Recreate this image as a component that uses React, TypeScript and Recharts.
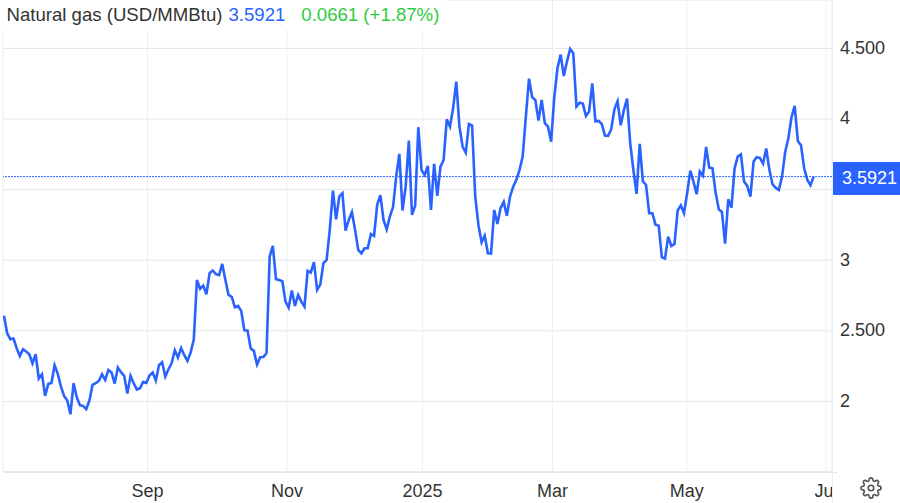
import React from "react";
import { LineChart, Line, XAxis, YAxis, CartesianGrid, ReferenceLine } from "recharts";

const FONT = '"Liberation Sans", Arial, sans-serif';

const prices: number[] = [
  2.606, 2.483, 2.44, 2.445, 2.377, 2.322, 2.369, 2.353, 2.334, 2.27,
  2.334, 2.162, 2.192, 2.039, 2.124, 2.131, 2.256, 2.195, 2.105, 2.039,
  2.006, 1.909, 2.129, 2.03, 1.973, 1.968, 1.945, 2.006, 2.117, 2.129,
  2.145, 2.192, 2.152, 2.223, 2.204, 2.126, 2.24, 2.207, 2.181, 2.055,
  2.181, 2.129, 2.084, 2.093, 2.138, 2.131, 2.183, 2.204, 2.148, 2.256,
  2.277, 2.176, 2.228, 2.27, 2.362, 2.31, 2.377, 2.327, 2.287, 2.346,
  2.436, 2.86, 2.797, 2.82, 2.759, 2.908, 2.927, 2.901, 2.894, 2.974,
  2.86, 2.754, 2.74, 2.667, 2.676, 2.641, 2.504, 2.502, 2.374, 2.358,
  2.261, 2.313, 2.315, 2.341, 3.026, 3.101, 2.865, 2.86, 2.851, 2.707,
  2.664, 2.785, 2.676, 2.754, 2.707, 2.672, 2.924, 2.912, 2.986, 2.79,
  2.827, 2.979, 3.002,
  3.215, 3.493, 3.29, 3.451, 3.474, 3.21, 3.285, 3.34, 3.215, 3.073,
  3.049, 3.085, 3.085, 3.186, 3.172, 3.392, 3.46, 3.285, 3.219, 3.309,
  3.375, 3.592, 3.753, 3.352, 3.521, 3.847, 3.321, 3.385, 3.942, 3.64,
  3.604, 3.668, 3.356, 3.682, 3.455, 3.663, 3.71, 3.998, 3.946,
  4.076, 4.265, 3.946, 3.805, 3.762, 3.965, 3.954, 3.451, 3.25, 3.127,
  3.174, 3.049, 3.047, 3.356, 3.257, 3.368, 3.413, 3.314, 3.451, 3.521,
  3.569, 3.64, 3.734, 4.017, 4.286, 4.154, 4.135, 3.989, 4.135, 3.97,
  3.946, 3.84, 4.159, 4.36, 4.456, 4.305, 4.407, 4.496, 4.466, 4.088,
  4.116, 4.109, 4.022, 4.053, 4.253, 3.984, 3.987, 3.965, 3.883, 3.881,
  3.928, 4.069, 4.126, 3.956, 4.064, 4.145, 3.828, 3.64, 3.47, 3.824,
  3.559, 3.533, 3.333, 3.333, 3.252, 3.245, 3.021, 3.012, 3.167, 3.101,
  3.115, 3.352, 3.389, 3.333, 3.474, 3.635, 3.557, 3.467, 3.628, 3.599,
  3.802, 3.656, 3.651, 3.479, 3.361, 3.342, 3.118, 3.432, 3.373, 3.651,
  3.734, 3.75, 3.557, 3.526, 3.451, 3.699, 3.729, 3.725, 3.684, 3.791,
  3.64, 3.538, 3.512, 3.498, 3.592, 3.767, 3.864, 4.013, 4.093, 3.845,
  3.814, 3.651, 3.569, 3.531, 3.5921,
];

const monthLabels = ["Sep", "Nov", "2025", "Mar", "May", "Jul"];
const monthSessions = [45.4, 89.5, 132.3, 173.4, 215.9, 259.9];
const priceTicks = [2, 2.5, 3, 3.5, 4, 4.5];
const priceTickLabels = ["2", "2.500", "3", "3.500", "4", "4.500"];
const lastPrice = 3.5921;
const titleText = "Natural gas (USD/MMBtu)";
const lastPriceText = "3.5921";
const changeText = "0.0661 (+1.87%)";

const chartData = prices.map((price, session) => ({ session, price }));

const BLUE = "#2962ff";
const TEXT = "#333333";

const GEAR =
  "M19.4 15a1.65 1.65 0 0 0 .33 1.82l.06.06a2 2 0 0 1 0 2.83 2 2 0 0 1-2.83 0l-.06-.06a1.65 1.65 0 0 0-1.82-.33 1.65 1.65 0 0 0-1 1.51V21a2 2 0 0 1-2 2 2 2 0 0 1-2-2v-.09A1.65 1.65 0 0 0 9 19.4a1.65 1.65 0 0 0-1.82.33l-.06.06a2 2 0 0 1-2.83 0 2 2 0 0 1 0-2.83l.06-.06a1.65 1.65 0 0 0 .33-1.82 1.65 1.65 0 0 0-1.51-1H3a2 2 0 0 1-2-2 2 2 0 0 1 2-2h.09A1.65 1.65 0 0 0 4.6 9a1.65 1.65 0 0 0-.33-1.82l-.06-.06a2 2 0 0 1 0-2.83 2 2 0 0 1 2.83 0l.06.06a1.65 1.65 0 0 0 1.82.33H9a1.65 1.65 0 0 0 1-1.51V3a2 2 0 0 1 2-2 2 2 0 0 1 2 2v.09a1.65 1.65 0 0 0 1 1.51 1.65 1.65 0 0 0 1.82-.33l.06-.06a2 2 0 0 1 2.83 0 2 2 0 0 1 0 2.83l-.06.06a1.65 1.65 0 0 0-.33 1.82V9a1.65 1.65 0 0 0 1.51 1H21a2 2 0 0 1 2 2 2 2 0 0 1-2 2h-.09a1.65 1.65 0 0 0-1.51 1z";

export default function App() {
  return (
    <div style={{ position: "absolute", left: 0, top: 0, width: 900, height: 503, background: "#fff", overflow: "hidden", fontFamily: FONT }}>
      <LineChart
        width={900}
        height={503}
        data={chartData}
        margin={{ top: 0, right: 0, bottom: 0, left: 3 }}
      >
        <CartesianGrid vertical={false} stroke="#e6e6e6" strokeWidth={1} />
        <CartesianGrid horizontal={false} stroke="#e9eff5" strokeWidth={1} />
        <XAxis
          dataKey="session"
          type="number"
          domain={[-0.32, 261.8]}
          ticks={monthSessions}
          interval={0}
          tickFormatter={(v: number) => monthLabels[monthSessions.indexOf(v)]}
          tick={{ fill: TEXT, fontSize: 18, fontFamily: FONT }}
          tickLine={false}
          axisLine={{ stroke: "#e0e0e0" }}
          tickMargin={6}
          height={31}
        />
        <YAxis
          orientation="right"
          type="number"
          domain={[1.5, 4.843]}
          ticks={priceTicks}
          interval={0}
          tickFormatter={(v: number) => priceTickLabels[priceTicks.indexOf(v)]}
          tick={{ fill: TEXT, fontSize: 18, fontFamily: FONT, dy: -1 }}
          tickLine={false}
          axisLine={false}
          tickMargin={2}
          width={68}
        />
        <ReferenceLine
          y={lastPrice}
          stroke={BLUE}
          strokeDasharray="2 1"
          strokeWidth={1}
        />
        <Line
          type="linear"
          dataKey="price"
          stroke={BLUE}
          strokeWidth={2.6}
          dot={false}
          activeDot={false}
          isAnimationActive={false}
        />
      </LineChart>

      <div style={{ position: "absolute", left: 0, top: 0, width: 446, height: 30, background: "#fff", whiteSpace: "nowrap", fontSize: 18.6, lineHeight: "30px", paddingLeft: 6.5, boxSizing: "border-box" }}>
        <span style={{ color: TEXT }}>{titleText}</span>
        <span style={{ color: BLUE, marginLeft: 6 }}>{lastPriceText}</span>
        <span style={{ color: "#2ecc40", marginLeft: 16 }}>{changeText}</span>
      </div>

      <div style={{ position: "absolute", left: 832, top: 162, width: 68, height: 33, background: BLUE, color: "#fff", fontSize: 18, lineHeight: "33px", paddingLeft: 10, boxSizing: "border-box" }}>
        {lastPriceText}
      </div>
      <div style={{ position: "absolute", left: 832, top: 474, width: 68, height: 29, background: "#fff" }} />
      <div style={{ position: "absolute", left: 832, top: 472, width: 5, height: 1, background: "#e0e0e0" }} />
      <div style={{ position: "absolute", left: 831.5, top: 0, width: 1, height: 503, background: "#e9eff5" }} />
      <svg width={22} height={22} viewBox="0 0 24 24" style={{ position: "absolute", left: 860, top: 477 }} fill="none" stroke="#555555" strokeWidth={1.8}>
        <circle cx={12} cy={12} r={3} />
        <path d={GEAR} />
      </svg>
    </div>
  );
}
